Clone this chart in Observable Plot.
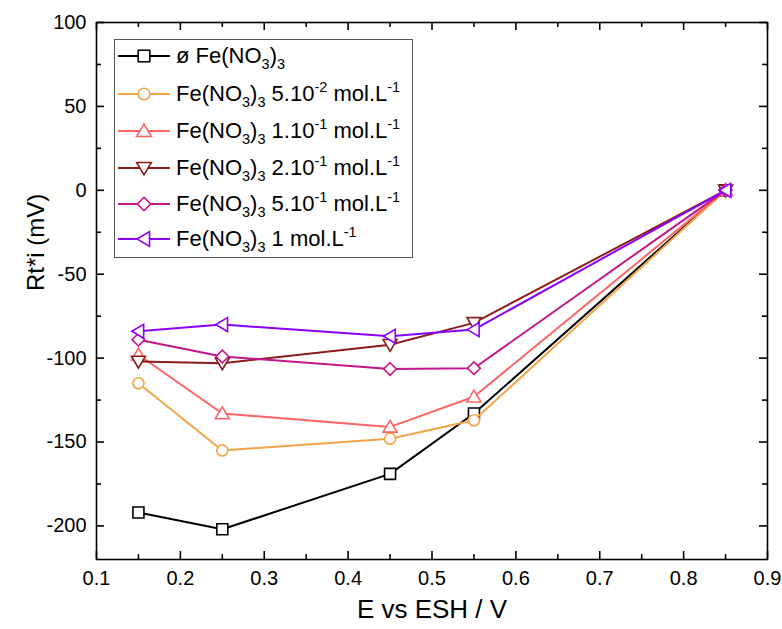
<!DOCTYPE html>
<html><head><meta charset="utf-8">
<script src="https://cdn.jsdelivr.net/npm/d3@7"></script>
<script src="https://cdn.jsdelivr.net/npm/@observablehq/plot@0.6"></script>
<style>
body{margin:0;background:#fff;font-family:Arial,"Liberation Sans",sans-serif;}
#wrap{position:relative;width:782px;height:629px;}
#legend{position:absolute;left:114px;top:39px;width:297px;height:217px;border:1px solid #555;background:#fff;box-sizing:content-box;}
.row{position:absolute;left:0;height:36px;display:flex;align-items:center;white-space:nowrap;font-size:22px;color:#000;}
.row svg{flex:none;margin-left:2px;margin-right:5px;}
.row sub,.row sup{font-size:0.66em;line-height:0;}
.row sub{vertical-align:-0.4em;}
.row sup{vertical-align:0.6em;}
</style>
</head><body>
<div id="wrap"><div id="chart"></div><div id="legend"></div></div>
<script>
const E = [0.15, 0.25, 0.45, 0.55, 0.85];
const s0 = [-192, -202, -169, -133, 0];
const s1 = [-115, -155, -148, -137, 0];
const s2 = [-98, -133, -141, -123, 0];
const s3 = [-102, -103, -92, -79, 0];
const s4 = [-89, -99, -106.5, -106, 0];
const s5 = [-84, -80, -87, -83, 0];
const seriesValues = [s0, s1, s2, s3, s4, s5];
const seriesLabels = [
  "ø Fe(NO<sub>3</sub>)<sub>3</sub>",
  "Fe(NO<sub>3</sub>)<sub>3</sub> 5.10<sup>-2</sup> mol.L<sup>-1</sup>",
  "Fe(NO<sub>3</sub>)<sub>3</sub> 1.10<sup>-1</sup> mol.L<sup>-1</sup>",
  "Fe(NO<sub>3</sub>)<sub>3</sub> 2.10<sup>-1</sup> mol.L<sup>-1</sup>",
  "Fe(NO<sub>3</sub>)<sub>3</sub> 5.10<sup>-1</sup> mol.L<sup>-1</sup>",
  "Fe(NO<sub>3</sub>)<sub>3</sub> 1 mol.L<sup>-1</sup>"
];
const seriesColors = ["#000000", "#f2a446", "#ff6464", "#8b1c1c", "#c4168a", "#8a00ff"];
const symbolNames = ["square", "circle", "triangleUp", "triangleDown", "diamond", "triangleLeft"];
const xTicks = [0.1, 0.2, 0.3, 0.4, 0.5, 0.6, 0.7, 0.8, 0.9];
const xMinor = [0.15, 0.25, 0.35, 0.45, 0.55, 0.65, 0.75, 0.85];
const yTicks = [-200, -150, -100, -50, 0, 50, 100];
const yMinor = [-175, -125, -75, -25, 25, 75];
const xLabel = "E vs ESH / V";
const yLabel = "Rt*i (mV)";

const W = 782, H = 629, mL = 96, mR = 15, mT = 22, mB = 70;
const fw = W - mL - mR, fh = H - mT - mB;
const major = 8, minor = 5;

const shapes = {
  square(c, r) { c.rect(-r, -r, 2 * r, 2 * r); },
  circle(c, r) { c.moveTo(r, 0); c.arc(0, 0, r, 0, 2 * Math.PI); },
  triangleUp(c, r) { c.moveTo(0, -1.2 * r); c.lineTo(1.27 * r, 0.95 * r); c.lineTo(-1.27 * r, 0.95 * r); c.closePath(); },
  triangleDown(c, r) { c.moveTo(0, 1.2 * r); c.lineTo(1.27 * r, -0.95 * r); c.lineTo(-1.27 * r, -0.95 * r); c.closePath(); },
  diamond(c, r) { const d = 1.15 * r; c.moveTo(0, -d); c.lineTo(d, 0); c.lineTo(0, d); c.lineTo(-d, 0); c.closePath(); },
  triangleLeft(c, r) { c.moveTo(-1.2 * r, 0); c.lineTo(0.95 * r, -1.27 * r); c.lineTo(0.95 * r, 1.27 * r); c.closePath(); }
};
const symbolObj = name => ({ draw(ctx, size) { shapes[name](ctx, Math.sqrt(size / Math.PI)); } });

const data = [];
seriesValues.forEach((vals, i) => vals.forEach((v, j) => data.push({ s: i, x: E[j], y: v })));

const marks = [];
seriesValues.forEach((vals, i) => {
  const d = data.filter(o => o.s === i);
  marks.push(Plot.line(d, { x: "x", y: "y", stroke: seriesColors[i], strokeWidth: 2 }));
  marks.push(Plot.dot(d, { x: "x", y: "y", r: 5.5, symbol: symbolObj(symbolNames[i]), stroke: seriesColors[i], fill: "white", strokeWidth: 1.6 }));
});

// inward ticks on all four sides: ticks inset so only a short segment at the frame edge remains
const ts = { stroke: "#000", strokeWidth: 1.6 };
const chart = Plot.plot({
  width: W, height: H,
  marginLeft: mL, marginRight: mR, marginTop: mT, marginBottom: mB,
  style: { fontFamily: "Arial, 'Liberation Sans', sans-serif", color: "black", background: "white" },
  x: { domain: [0.1, 0.9] },
  y: { domain: [-220, 100] },
  marks: [
    ...marks,
    Plot.tickX(xTicks, { x: d => d, ...ts, insetTop: fh - major }),
    Plot.tickX(xMinor, { x: d => d, ...ts, insetTop: fh - minor }),
    Plot.tickX(xTicks, { x: d => d, ...ts, insetBottom: fh - major }),
    Plot.tickX(xMinor, { x: d => d, ...ts, insetBottom: fh - minor }),
    Plot.tickY(yTicks, { y: d => d, ...ts, insetRight: fw - major }),
    Plot.tickY(yMinor, { y: d => d, ...ts, insetRight: fw - minor }),
    Plot.tickY(yTicks, { y: d => d, ...ts, insetLeft: fw - major }),
    Plot.tickY(yMinor, { y: d => d, ...ts, insetLeft: fw - minor }),
    Plot.frame({ stroke: "black", strokeWidth: 1.6 }),
    Plot.axisX(xTicks, { anchor: "bottom", tickSize: 0, tickPadding: 11, fontSize: 20, label: null, tickFormat: d3.format(".1f") }),
    Plot.axisY(yTicks, { anchor: "left", tickSize: 0, tickPadding: 10, fontSize: 20, label: null, tickFormat: d => d < 0 ? "-" + Math.abs(d) : String(d) }),
    Plot.text([xLabel], { frameAnchor: "bottom", dy: 58, fontSize: 26, text: d => d }),
    Plot.text([yLabel], { frameAnchor: "left", dx: -60, rotate: -90, fontSize: 24, text: d => d })
  ]
});
document.getElementById("chart").appendChild(chart);

const legend = document.getElementById("legend");
const rowCenters = [16, 54, 91, 128, 164, 199];
seriesLabels.forEach((lab, i) => {
  const row = document.createElement("div");
  row.className = "row";
  row.style.top = (rowCenters[i] - 18) + "px";
  const p = d3.path();
  shapes[symbolNames[i]](p, 5.8);
  row.innerHTML = `<svg width="54" height="22" viewBox="0 0 54 22"><line x1="1" x2="53" y1="11" y2="11" stroke="${seriesColors[i]}" stroke-width="2"/><path transform="translate(27,11)" d="${p.toString()}" fill="white" stroke="${seriesColors[i]}" stroke-width="1.6"/></svg><span>${lab}</span>`;
  legend.appendChild(row);
});
</script>
</body></html>
